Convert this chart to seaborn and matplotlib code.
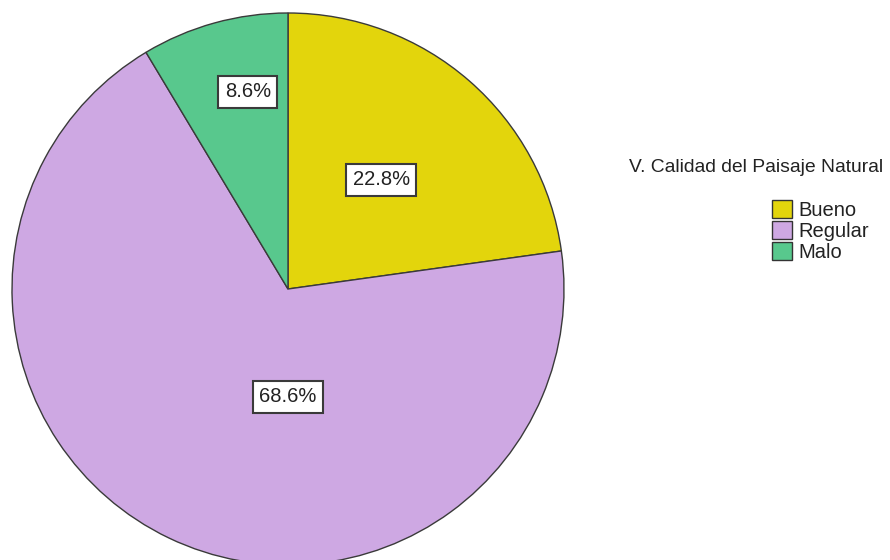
import matplotlib
matplotlib.use("Agg")
import matplotlib.pyplot as plt
import matplotlib.patches as mpatches
import seaborn as sns
import math

sns.set_theme(style="white")
plt.rcParams["font.family"] = ["Liberation Sans", "DejaVu Sans"]

# data
categories = ["Bueno", "Regular", "Malo"]
values = [22.8, 68.6, 8.6]
colors = ["#E3D50C", "#CEA8E3", "#58C88D"]
legend_title = "V. Calidad del Paisaje Natural"
# label anchor (radius fraction, angle deg) for each slice label
label_pos = [(0.52, 49.5), (0.39, -90.0), (0.73, 101.5)]

W, H = 890, 560
fig = plt.figure(figsize=(W / 100, H / 100), dpi=100)
cx, cy, R = 288, 560 - 289, 276
ax = fig.add_axes([(cx - R) / W, (cy - R) / H, 2 * R / W, 2 * R / H])

wedges, _ = ax.pie(values, colors=colors, startangle=90, counterclock=False,
                   radius=1.0, wedgeprops=dict(edgecolor="#3a3a3a", linewidth=1.0))
ax.set_xlim(-1, 1)
ax.set_ylim(-1, 1)
ax.set_aspect("auto")
ax.axis("off")

for v, (r, a) in zip(values, label_pos):
    x = r * math.cos(math.radians(a))
    y = r * math.sin(math.radians(a))
    ax.text(x, y, f"{v:.1f}%", ha="center", va="center", fontsize=14.5, color="#222222",
            bbox=dict(boxstyle="square,pad=0.32", facecolor="white", edgecolor="#3a3a3a", linewidth=1.5))

fig.text(629 / W, 1 - 167 / H, legend_title, ha="left", va="center",
         fontsize=13.9, color="#222222")

handles = [mpatches.Patch(facecolor=c, edgecolor="#333333", linewidth=1.0, label=n)
           for c, n in zip(colors, categories)]
leg = fig.legend(handles=handles, loc="upper left", bbox_to_anchor=(772 / W, 1 - 200 / H),
                 frameon=False, prop=dict(size=14.5),
                 handlelength=1.0, handleheight=1.0, handletextpad=0.3, labelspacing=0.05,
                 borderpad=0.0, borderaxespad=0.0)
for t in leg.get_texts():
    t.set_color("#222222")

fig.savefig("out.png", dpi=100)
